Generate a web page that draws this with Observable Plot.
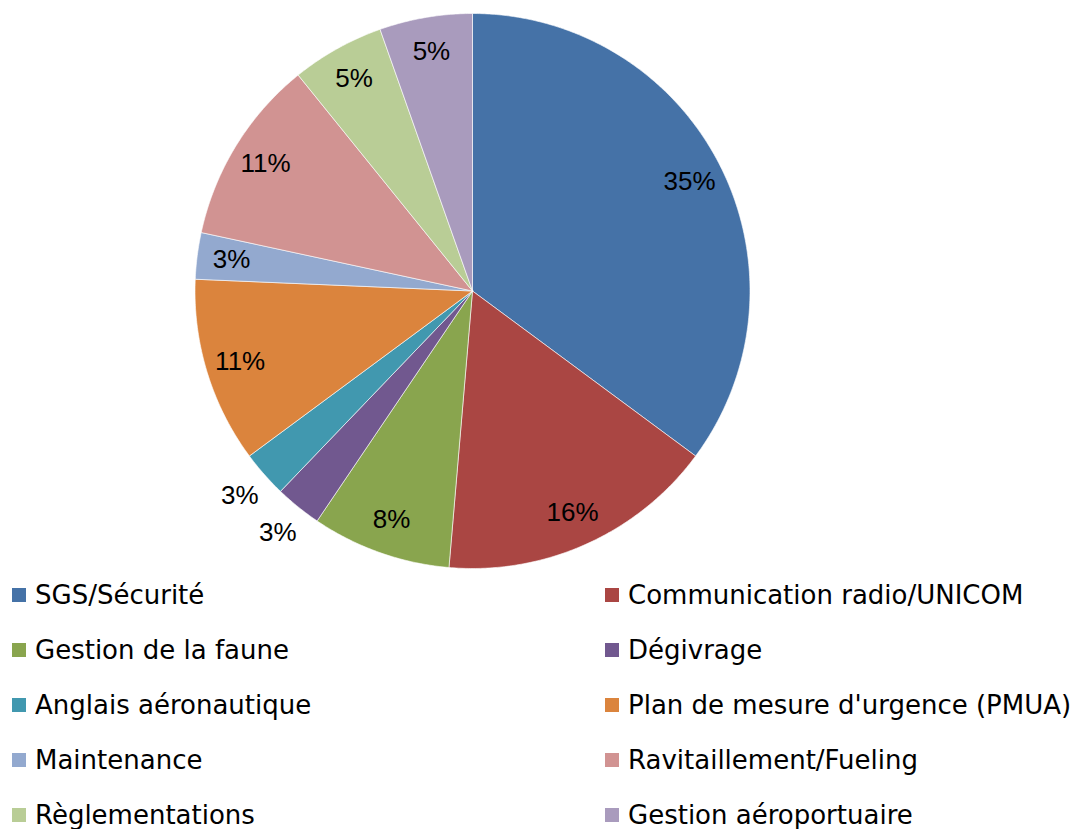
<!DOCTYPE html>
<html>
<head>
<meta charset="utf-8">
<script src="https://cdn.jsdelivr.net/npm/d3@7"></script>
<script src="https://cdn.jsdelivr.net/npm/@observablehq/plot@0.6"></script>
<style>
  html, body { margin: 0; padding: 0; background: #fff; }
  #chart { width: 1075px; height: 829px; overflow: hidden; position: relative; }
  .legend { position: relative; width: 1075px; font-family: "DejaVu Sans", sans-serif; font-size: 26px; color: #000; }
  .item { position: absolute; height: 55px; display: flex; align-items: center; white-space: nowrap; }
  .sw { width: 14px; height: 14px; margin-right: 9px; flex: none; }
</style>
</head>
<body>
<div id="chart"></div>
<script>
const categories = ["SGS/Sécurité", "Communication radio/UNICOM", "Gestion de la faune", "Dégivrage", "Anglais aéronautique", "Plan de mesure d'urgence (PMUA)", "Maintenance", "Ravitaillement/Fueling", "Règlementations", "Gestion aéroportuaire"];
const values = [13, 6, 3, 1, 1, 4, 1, 4, 2, 2];
const percentLabels = ["35%", "16%", "8%", "3%", "3%", "11%", "3%", "11%", "5%", "5%"];
const colors = ["#4572A7", "#AA4643", "#89A54E", "#71588F", "#4198AF", "#DB843D", "#93A9CF", "#D19392", "#B9CD96", "#A99BBD"];
const outsideLabels = ["Dégivrage", "Anglais aéronautique"];

const W = 1075, H = 568;
const cx = 472, cy = 290.5, R = 277.5;

const arcs = d3.pie().sort(null).value(d => d)(values);

// slice outlines (polygon following each arc), built from the pie angles
const slicePts = [];
arcs.forEach((a, i) => {
  const key = categories[i];
  slicePts.push({key, x: 0, y: 0});
  const n = Math.max(4, Math.ceil((a.endAngle - a.startAngle) / (Math.PI / 360)));
  for (let k = 0; k <= n; k++) {
    const t = a.startAngle + (a.endAngle - a.startAngle) * k / n;
    slicePts.push({key, x: R * Math.sin(t), y: R * Math.cos(t)});
  }
  slicePts.push({key, x: 0, y: 0});
});

const labelData = arcs.map((a, i) => {
  const m = (a.startAngle + a.endAngle) / 2;
  const r = outsideLabels.includes(categories[i]) ? 310 : 243;
  return {key: categories[i], label: percentLabels[i], x: r * Math.sin(m), y: r * Math.cos(m)};
});

const plot = Plot.plot({
  width: W,
  height: H,
  margin: 0,
  x: {domain: [-cx, W - cx], axis: null},
  y: {domain: [-(H - cy), cy], axis: null},
  color: {domain: categories, range: colors},
  style: {overflow: "visible", background: "transparent"},
  marks: [
    Plot.line(slicePts, {x: "x", y: "y", z: "key", fill: "key", stroke: "#ffffff", strokeWidth: 1, strokeOpacity: 0.6, curve: "linear"}),
    Plot.text(labelData, {x: "x", y: "y", text: "label", fontSize: 26, fontFamily: "Liberation Sans, Arial, sans-serif", fill: "#000"})
  ]
});

const chart = document.getElementById("chart");
chart.appendChild(plot);

const legend = document.createElement("div");
legend.className = "legend";
categories.forEach((c, i) => {
  const item = document.createElement("div");
  item.className = "item";
  item.style.left = (i % 2 === 0 ? 12 : 605) + "px";
  item.style.top = (Math.floor(i / 2) * 55 - 0.5) + "px";
  const sw = document.createElement("span");
  sw.className = "sw";
  sw.style.background = colors[i];
  const tx = document.createElement("span");
  tx.textContent = c;
  item.appendChild(sw);
  item.appendChild(tx);
  legend.appendChild(item);
});
chart.appendChild(legend);
</script>
</body>
</html>
